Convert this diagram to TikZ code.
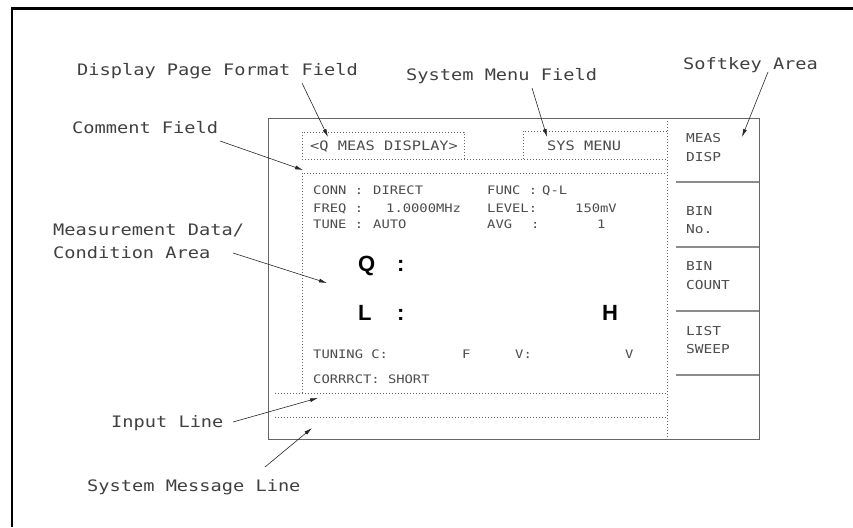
\documentclass[tikz,border=0pt]{standalone}
\usepackage{fontspec}
\setsansfont{Liberation Sans}
\newfontfamily\hmono[FakeStretch=1.18]{DejaVu Sans Mono}
\usetikzlibrary{arrows.meta}
\begin{document}
\begin{tikzpicture}[x=1pt,y=-1pt,
 annot/.style={anchor=base west,inner sep=0pt,text=black!75,font=\hmono\fontsize{15.8}{18}\selectfont},
 scr/.style={anchor=base west,inner sep=0pt,text=black!70,font=\hmono\fontsize{11.7}{14}\selectfont},
 hdr/.style={scr,font=\hmono\fontsize{13}{15}\selectfont},
 soft/.style={scr,font=\hmono\fontsize{12.3}{15}\selectfont},
 big/.style={anchor=base west,inner sep=0pt,font=\sffamily\bfseries\fontsize{22}{26}\selectfont},
 dots/.style={draw=black!60,line width=0.6pt,dash pattern=on 0.8pt off 2.2pt},
 ptr/.style={draw=black!85,line width=0.6pt,-{Latex[length=8pt,width=4pt]}},
 sep/.style={draw=black!45,line width=1.2pt}]
\useasboundingbox (0,0) rectangle (853,527);
% outer frame
\draw[line width=2.5pt] (853,8.5) -- (12,8.5) -- (12,527);
% screen box
\draw[black!60,line width=0.8pt] (268,118) rectangle (759,439);
% softkey separators
\foreach \yy in {182,247,311,375} \draw[sep] (676,\yy) -- (759,\yy);
% dotted fields
\draw[dots] (302,132) rectangle (464,159);
\draw[dots] (464,159) -- (667,159);
\draw[dots] (523,159) -- (523,131) -- (667,131);
\draw[dots] (302,393) -- (302,173) -- (667,173);
\draw[dots] (275,393) -- (667,393);
\draw[dots] (275,417) -- (667,417);
\draw[dots] (667,118) -- (667,439);
% header texts
\node[hdr] (hd) at (310,150) {<Q MEAS DISPLAY>};
\node[hdr] (sm) at (547,150) {SYS MENU};
% condition texts
\node[scr] (c1) at (313,194) {CONN :};
\node[scr] (c1v) at (373,194) {DIRECT};
\node[scr] (c2) at (313,212) {FREQ :};
\node[scr] (c2v) at (386,212) {1.0000MHz};
\node[scr] (c3) at (313,228) {TUNE :};
\node[scr] (c3v) at (373,228) {AUTO};
\node[scr] (c4) at (487,194) {FUNC :};
\node[scr] (c4v) at (542,194) {Q-L};
\node[scr] (c5) at (487,212) {LEVEL:};
\node[scr] (c5v) at (575,212) {150mV};
\node[scr] (c6) at (487,228) {AVG};
\node[scr] (c6c) at (531,228) {:};
\node[scr] (c6v) at (597,228) {1};
% big data
\node[big] (q) at (358,271) {Q};
\node[big] (qc) at (397,271) {:};
\node[big] (l) at (358,320) {L};
\node[big] (lc) at (397,320) {:};
\node[big] (h) at (602,320) {H};
% bottom conditions
\node[scr] (t1) at (313,358) {TUNING C:};
\node[scr] (t2) at (462,358) {F};
\node[scr] (t3) at (515,358) {V:};
\node[scr] (t4) at (625,358) {V};
\node[scr] (cr) at (313,383) {CORRRCT: SHORT};
% softkeys
\node[soft] (k1a) at (686,142) {MEAS};
\node[soft] (k1b) at (686,161) {DISP};
\node[soft] (k2a) at (686,215) {BIN};
\node[soft] (k2b) at (686,233) {No.};
\node[soft] (k3a) at (686,270) {BIN};
\node[soft] (k3b) at (686,289) {COUNT};
\node[soft] (k4a) at (686,335) {LIST};
\node[soft] (k4b) at (686,353) {SWEEP};
% annotation labels
\node[annot] (ldp) at (77,75) {Display Page Format Field};
\node[annot] (lsm) at (406,80) {System Menu Field};
\node[annot] (lsk) at (683,70) {Softkey Area};
\node[annot] (lcf) at (72,133) {Comment Field};
\node[annot] (lmd) at (53,235) {Measurement Data/};
\node[annot] (lca) at (53,258) {Condition Area};
\node[annot] (lin) at (111,427) {Input Line};
\node[annot] (lsy) at (87,491) {System Message Line};
% arrow ends
\coordinate (sdp) at (302,83);   \coordinate (edp) at (328,137);
\coordinate (ssm) at (532,88);   \coordinate (esm) at (547,137);
\coordinate (ssk) at (768,72);   \coordinate (esk) at (742,137);
\coordinate (scf) at (220,141);  \coordinate (ecf) at (303,170);
\coordinate (sca) at (233,253);  \coordinate (eca) at (327,283);
\coordinate (sin) at (233,422);  \coordinate (ein) at (318,398);
\coordinate (ssy) at (265,467);  \coordinate (esy) at (312,428);
\draw[ptr] (sdp) -- (edp);
\draw[ptr] (ssm) -- (esm);
\draw[ptr] (ssk) -- (esk);
\draw[ptr] (scf) -- (ecf);
\draw[ptr] (sca) -- (eca);
\draw[ptr] (sin) -- (ein);
\draw[ptr] (ssy) -- (esy);
\end{tikzpicture}
\end{document}
